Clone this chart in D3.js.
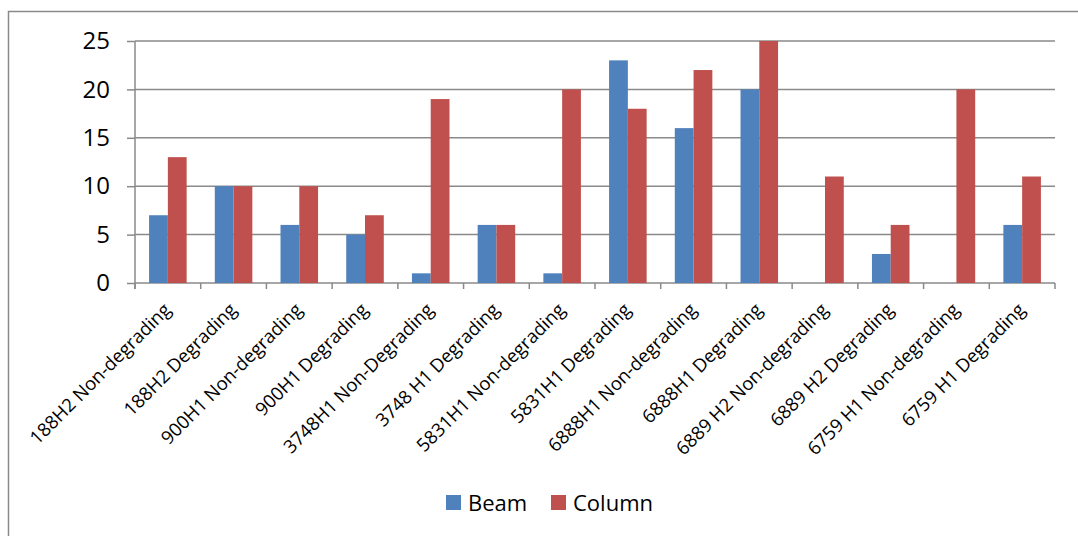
<!DOCTYPE html>
<html>
<head>
<meta charset="utf-8">
<script src="https://cdn.jsdelivr.net/npm/d3@7/dist/d3.min.js"></script>
<style>
  html, body { margin: 0; padding: 0; background: #fff; }
  svg { display: block; }
  text { font-family: "Open Sans", "Noto Sans", sans-serif; fill: #000; }
</style>
</head>
<body>
<svg id="chart" width="1078" height="536"></svg>
<script>
const categories = [
  "188H2 Non-degrading", "188H2 Degrading", "900H1 Non-degrading", "900H1 Degrading",
  "3748H1 Non-Degrading", "3748 H1 Degrading", "5831H1 Non-degrading", "5831H1 Degrading",
  "6888H1 Non-degrading", "6888H1 Degrading", "6889 H2 Non-degrading", "6889 H2 Degrading",
  "6759 H1 Non-degrading", "6759 H1 Degrading"
];
const seriesNames = ["Beam", "Column"];
const beamValues   = [7, 10, 6, 5, 1, 6, 1, 23, 16, 20, 0, 3, 0, 6];
const columnValues = [13, 10, 10, 7, 19, 6, 20, 18, 22, 25, 11, 6, 20, 11];
const yTicks = [0, 5, 10, 15, 20, 25];
const colors = ["#4F81BD", "#C0504D"];

const svg = d3.select("#chart");
const plot = { left: 135, right: 1055, top: 41, bottom: 283 };

// outer chart frame
svg.append("rect")
  .attr("x", 8.5).attr("y", 11.5)
  .attr("width", 1100).attr("height", 600)
  .attr("fill", "none").attr("stroke", "#8a8a8a").attr("stroke-width", 1.5);

const x = d3.scaleBand().domain(categories).range([plot.left, plot.right]);
// bars take 2 of 3.5 parts of each band (gap width 150%)
const inner = d3.scaleBand().domain(seriesNames)
  .range([x.bandwidth() * 0.75 / 3.5, x.bandwidth() * 2.75 / 3.5]);
const y = d3.scaleLinear().domain([0, 25]).range([plot.bottom, plot.top]);

const gridColor = "#8a8a8a";

// horizontal gridlines and y ticks
const yAxis = d3.axisLeft(y).tickValues(yTicks).tickSize(8).tickPadding(17);
const gy = svg.append("g").attr("transform", `translate(${plot.left},0)`).call(yAxis);
gy.select(".domain").remove();
gy.selectAll(".tick line").attr("stroke", gridColor).attr("stroke-width", 1.5);
gy.selectAll(".tick text").attr("font-size", 24).attr("fill", "#000")
  .attr("font-family", '"Open Sans", sans-serif');
svg.append("g").selectAll("line").data(yTicks).join("line")
  .attr("x1", plot.left).attr("x2", plot.right)
  .attr("y1", d => y(d)).attr("y2", d => y(d))
  .attr("stroke", gridColor).attr("stroke-width", 1.5);

// bars
const series = [beamValues, columnValues];
series.forEach((vals, si) => {
  svg.append("g").selectAll("rect").data(vals).join("rect")
    .attr("x", (d, i) => x(categories[i]) + inner(seriesNames[si]))
    .attr("width", inner.bandwidth())
    .attr("y", d => y(d))
    .attr("height", d => y(0) - y(d))
    .attr("fill", colors[si]);
});

// vertical axis line
svg.append("line")
  .attr("x1", plot.left).attr("x2", plot.left)
  .attr("y1", plot.top).attr("y2", plot.bottom + 6)
  .attr("stroke", gridColor).attr("stroke-width", 1.5);

// category axis
const boundaries = d3.range(categories.length + 1).map(i => plot.left + i * x.step());
svg.append("g").selectAll("line").data(boundaries).join("line")
  .attr("x1", d => d).attr("x2", d => d)
  .attr("y1", plot.bottom).attr("y2", plot.bottom + 6)
  .attr("stroke", gridColor).attr("stroke-width", 1.5);

svg.append("g").selectAll("text").data(categories).join("text")
  .attr("transform", d => `translate(${x(d) + x.bandwidth() / 2 + 4},${plot.bottom + 28}) rotate(-45)`)
  .attr("text-anchor", "end")
  .attr("font-size", 18.5)
  .text(d => d);

// legend
const legend = svg.append("g");
const legendItems = [
  { name: "Beam", sx: 446, tx: 468 },
  { name: "Column", sx: 551, tx: 573 }
];
legendItems.forEach((it, i) => {
  legend.append("rect").attr("x", it.sx).attr("y", 495)
    .attr("width", 15).attr("height", 15).attr("fill", colors[i]);
  legend.append("text").attr("x", it.tx).attr("y", 510.5)
    .attr("font-size", 22).text(it.name);
});
</script>
</body>
</html>
